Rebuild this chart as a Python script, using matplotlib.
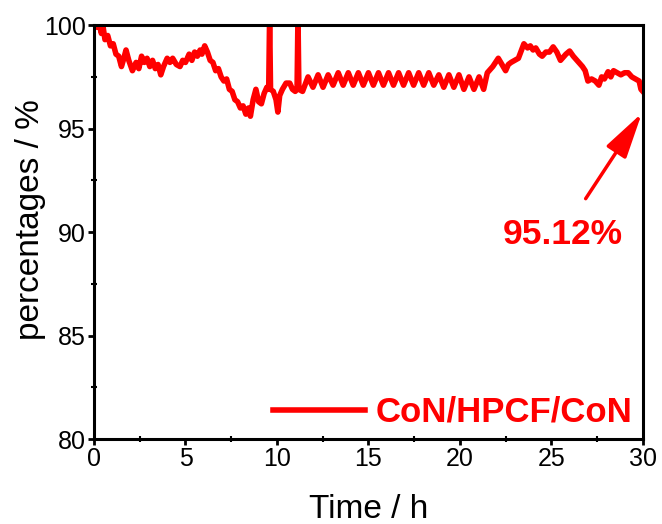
import matplotlib
matplotlib.use("Agg")
import matplotlib.pyplot as plt
from matplotlib.ticker import MultipleLocator

plt.rcParams['font.family'] = ['Liberation Sans', 'DejaVu Sans']

time_h = [0.0, 0.15, 0.3, 0.4, 0.5, 0.6, 0.75, 0.9, 1.05, 1.2, 1.35, 1.5, 1.6, 1.75, 1.9,
          2.1, 2.3, 2.45, 2.6, 2.75, 2.9, 3.05, 3.2, 3.35, 3.5, 3.65, 3.8, 4.0, 4.15, 4.3,
          4.5, 4.7, 4.85, 5.0, 5.2, 5.35, 5.5, 5.65, 5.8, 5.9, 6.05, 6.2, 6.35, 6.5, 6.65,
          6.8, 6.95, 7.1, 7.25, 7.4, 7.55, 7.7, 7.85, 8.0, 8.15, 8.3, 8.45, 8.55, 8.7, 8.85,
          9.0, 9.15, 9.3, 9.45, 9.55, 9.6, 9.65, 9.8, 9.95, 10.05, 10.15, 10.3, 10.5, 10.7,
          10.85, 11.0, 11.1, 11.15, 11.2, 11.4,
          11.7, 11.97, 12.25, 12.52, 12.8, 13.07, 13.35, 13.62, 13.9, 14.17, 14.45, 14.72,
          15.0, 15.27, 15.55, 15.82, 16.1, 16.37, 16.65, 16.92, 17.2, 17.47, 17.75, 18.02,
          18.3, 18.57, 18.85, 19.12, 19.4, 19.67, 19.95, 20.22, 20.5, 20.77, 21.05, 21.3,
          21.5, 21.8, 22.1, 22.3, 22.5, 22.65, 22.8, 23.0, 23.2, 23.5, 23.7, 23.85, 24.0,
          24.15, 24.35, 24.5, 24.7, 24.9, 25.1, 25.3, 25.5, 25.6, 25.8, 26.0, 26.2, 26.4,
          26.5, 26.7, 26.85, 27.0, 27.2, 27.4, 27.6, 27.75, 27.9, 28.1, 28.25, 28.4, 28.6,
          28.8, 29.0, 29.2, 29.4, 29.6, 29.8, 29.9, 30.0]

percent = [100.0, 99.9, 100.0, 99.6, 99.9, 99.3, 99.5, 99.0, 99.1, 98.6, 98.5, 98.0, 98.3, 98.8, 98.3,
           97.8, 98.2, 97.9, 98.5, 98.2, 98.4, 98.0, 98.3, 97.9, 98.1, 97.6, 98.0, 98.4, 98.2, 98.4,
           98.1, 98.0, 98.3, 98.2, 98.6, 98.3, 98.7, 98.5, 98.8, 98.6, 99.0, 98.7, 98.3, 98.2, 97.8,
           97.9, 97.5, 97.3, 97.4, 96.9, 96.8, 96.4, 96.3, 96.0, 96.1, 95.7, 96.0, 95.6, 96.4, 96.9,
           96.3, 96.2, 96.7, 97.0, 96.9, 100.5, 96.9, 96.8, 96.4, 95.8, 96.6, 96.9, 97.2, 97.2,
           96.9, 96.8, 96.9, 100.5, 96.9, 96.8,
           97.5, 97.0, 97.6, 97.0, 97.6, 97.1, 97.7, 97.1, 97.7, 97.1, 97.7, 97.1,
           97.7, 97.1, 97.7, 97.1, 97.7, 97.1, 97.7, 97.1, 97.7, 97.1, 97.7, 97.1,
           97.7, 97.1, 97.6, 97.0, 97.6, 97.0, 97.6, 96.9, 97.5, 96.9, 97.5, 96.9,
           97.7, 98.0, 98.4, 98.1, 97.8, 98.1, 98.2, 98.3, 98.4, 99.1, 98.9, 99.0, 98.8,
           98.9, 98.6, 98.5, 98.7, 98.7, 98.95, 98.7, 98.3, 98.4, 98.6, 98.75, 98.5, 98.3,
           98.2, 98.0, 97.8, 97.3, 97.4, 97.3, 97.1, 97.5, 97.4, 97.75, 97.5, 97.8, 97.7,
           97.6, 97.7, 97.7, 97.5, 97.4, 97.3, 96.9, 96.8]

x_ticks = [0, 5, 10, 15, 20, 25, 30]
y_ticks = [80, 85, 90, 95, 100]
series_label = "CoN/HPCF/CoN"
annotation_text = "95.12%"

fig = plt.figure(figsize=(6.62, 5.24), dpi=100)
ax = fig.add_axes([0.142, 0.162, 0.829, 0.790])

red = '#ff0000'
ax.plot(time_h, percent, color=red, lw=4, label=series_label, solid_joinstyle='round')

ax.set_xlim(0, 30)
ax.set_ylim(80, 100)
ax.set_xticks(x_ticks)
ax.set_yticks(y_ticks)
ax.xaxis.set_minor_locator(MultipleLocator(2.5))
ax.yaxis.set_minor_locator(MultipleLocator(2.5))
ax.tick_params(which='major', direction='out', length=4, width=2, labelsize=18, pad=2)
ax.tick_params(which='minor', direction='inout', length=4, width=1.5)
for s in ax.spines.values():
    s.set_linewidth(2.2)

ax.set_xlabel("Time / h", fontsize=24)
ax.xaxis.set_label_coords(0.50, -0.133)
ax.set_ylabel("percentages / %", fontsize=24, va='center')
ax.yaxis.set_label_coords(-0.115, 0.53)

ax.annotate(annotation_text, xy=(29.95, 95.75), xytext=(25.6, 89.9),
            fontsize=25.5, fontweight='bold', color=red, ha='center', va='center',
            arrowprops=dict(arrowstyle='-|>,head_length=1.1,head_width=0.28', color=red, lw=2.5,
                            shrinkA=14, shrinkB=0))

leg = ax.legend(loc='lower right', bbox_to_anchor=(1.0, 0.0), frameon=False, fontsize=25,
                handlelength=2.65, borderaxespad=0.1, borderpad=0.2, handletextpad=0.3)
for t in leg.get_texts():
    t.set_color(red)
    t.set_fontweight('bold')

fig.savefig("out.png", dpi=100)
